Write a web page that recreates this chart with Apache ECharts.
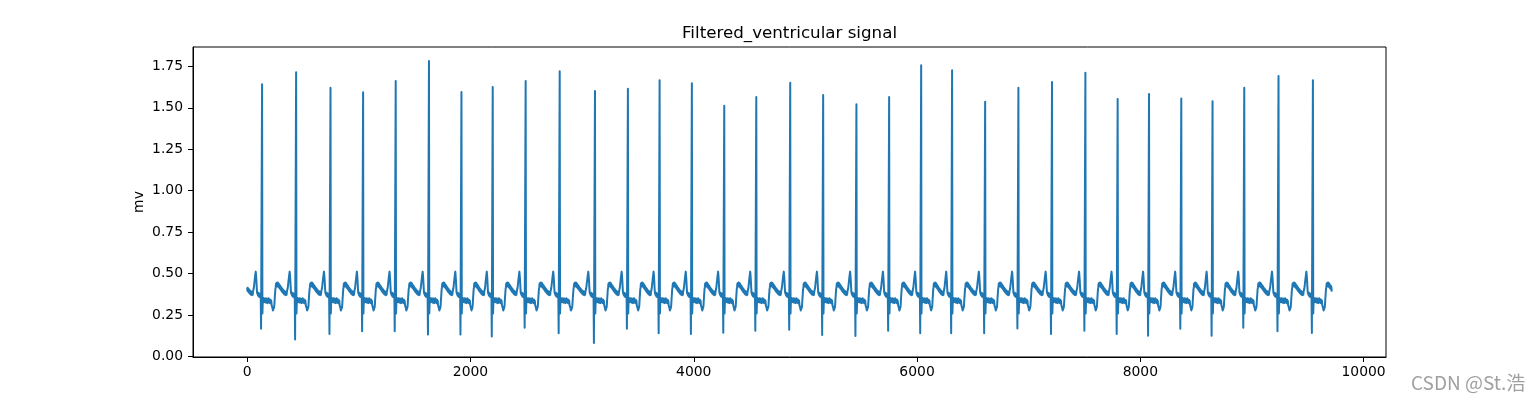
<!DOCTYPE html>
<html>
<head>
<meta charset="utf-8">
<script src="https://cdn.jsdelivr.net/npm/echarts@6/dist/echarts.min.js"></script>
<style>
html,body{margin:0;padding:0;background:#fff;}
#chart{width:1540px;height:400px;}
</style>
</head>
<body>
<div id="chart"></div>
<script>
// ---- data ----
const TITLE = 'Filtered_ventricular signal';
const Y_NAME = 'mv';
const WATERMARK = 'CSDN @St.浩';

// sample index of every R peak
const R_PEAK_SAMPLE = [133,438,746,1038,1330,1628,1919,2199,2494,2799,3115,3410,3694,3983,4273,4560,4864,5159,5457,5750,6037,6314,6610,6908,7209,7508,7797,8078,8367,8647,8931,9238,9546];
// amplitude of every R peak (mv)
const R_AMPLITUDE = [1.642,1.715,1.621,1.594,1.662,1.782,1.595,1.625,1.662,1.721,1.601,1.615,1.666,1.648,1.512,1.566,1.651,1.577,1.522,1.566,1.757,1.727,1.536,1.621,1.656,1.712,1.554,1.583,1.557,1.540,1.621,1.692,1.666];
// depth of the sharp trough just before every R peak (mv)
const Q_TROUGH = [0.167,0.102,0.136,0.152,0.152,0.132,0.132,0.120,0.173,0.140,0.082,0.167,0.140,0.136,0.144,0.156,0.161,0.130,0.124,0.156,0.140,0.140,0.140,0.169,0.136,0.156,0.136,0.125,0.167,0.125,0.173,0.152,0.142];

// phase 0 = R, 300 = next R, null = Q trough
const BEAT_PHASE = [3,6,9,12,15,18,21,24,27,30,33,36,39,42,45,48,51,54,57,60,63,66,69,72,75,78,81,84,87,90,93,96,99,102,105,108,111,114,117,120,123,126,129,132,135,138,141,144,147,150,153,156,159,162,165,168,171,174,177,180,183,186,189,192,195,198,201,204,207,210,213,216,219,222,225,228,231,234,237,240,243,246,249,252,255,258,261,264,267,270,273,276,279,282,285,288,291];
const BEAT_LEVEL = [0.26,0.33,0.355,0.335,0.35,0.328,0.348,0.33,0.352,0.327,0.345,0.325,0.35,0.33,0.347,0.322,0.345,0.33,0.352,0.328,0.346,0.325,0.344,0.322,0.342,0.32,0.336,0.31,0.318,0.296,0.298,0.278,0.275,0.272,0.294,0.31,0.345,0.375,0.405,0.418,0.44,0.422,0.445,0.425,0.447,0.424,0.445,0.42,0.44,0.415,0.433,0.41,0.428,0.405,0.422,0.398,0.415,0.392,0.41,0.388,0.405,0.383,0.4,0.378,0.396,0.375,0.393,0.372,0.39,0.37,0.388,0.372,0.392,0.395,0.41,0.425,0.445,0.462,0.48,0.497,0.512,0.49,0.46,0.42,0.385,0.375,0.39,0.368,0.385,0.362,0.382,0.36,0.378,0.358,0.375,0.36,null];
const NOMINAL_RR = 300;

const FIRST_SAMPLE = 0, FIRST_VALUE = 0.415;
const LAST_SAMPLE = 9715, LAST_VALUE = 0.392;

const X_TICKS = [0,2000,4000,6000,8000,10000];
const Y_TICKS = [0,0.25,0.5,0.75,1.0,1.25,1.5,1.75];

// ---- build the series ----
const pts = [[FIRST_SAMPLE, FIRST_VALUE]];
for (let k = 0; k < BEAT_PHASE.length; k++) {
  const x = R_PEAK_SAMPLE[0] - (NOMINAL_RR - BEAT_PHASE[k]);
  if (x <= FIRST_SAMPLE) continue;
  const v = BEAT_LEVEL[k] === null ? Q_TROUGH[0] : BEAT_LEVEL[k];
  pts.push([x, v]);
}
for (let i = 0; i < R_PEAK_SAMPLE.length; i++) {
  pts.push([R_PEAK_SAMPLE[i], R_AMPLITUDE[i]]);
  const last = i === R_PEAK_SAMPLE.length - 1;
  const rr = last ? NOMINAL_RR : (R_PEAK_SAMPLE[i+1] - R_PEAK_SAMPLE[i]);
  for (let k = 0; k < BEAT_PHASE.length; k++) {
    const x = R_PEAK_SAMPLE[i] + BEAT_PHASE[k] * rr / NOMINAL_RR;
    if (last && x >= LAST_SAMPLE) break;
    const v = BEAT_LEVEL[k] === null ? Q_TROUGH[i+1] : BEAT_LEVEL[k];
    pts.push([x, v]);
  }
}
pts.push([LAST_SAMPLE, LAST_VALUE]);

// matplotlib-like 5% autoscale margins
let ymin = Infinity, ymax = -Infinity;
pts.forEach(p => { if (p[1] < ymin) ymin = p[1]; if (p[1] > ymax) ymax = p[1]; });
const xr = LAST_SAMPLE - FIRST_SAMPLE, yr = ymax - ymin;
const XMIN = FIRST_SAMPLE - 0.05 * xr, XMAX = LAST_SAMPLE + 0.05 * xr;
const YMIN = ymin - 0.05 * yr, YMAX = ymax + 0.05 * yr;

const FONT = 'DejaVu Sans';
const chart = echarts.init(document.getElementById('chart'), null, {renderer: 'canvas'});
chart.setOption({
  animation: false,
  backgroundColor: '#ffffff',
  grid: {left: 193, right: 154, top: 47, bottom: 43, show: true, borderColor: '#000', borderWidth: 1, backgroundColor: 'transparent'},
  xAxis: {
    type: 'value', min: XMIN, max: XMAX,
    axisLine: {show: true, onZero: false, lineStyle: {color: '#000', width: 1}},
    axisTick: {show: true, inside: false, length: 5, lineStyle: {color: '#000', width: 1}, customValues: X_TICKS},
    axisLabel: {show: true, margin: 8, color: '#000', fontFamily: FONT, fontSize: 13.9, customValues: X_TICKS, formatter: v => String(Math.round(v))},
    splitLine: {show: false}
  },
  yAxis: {
    type: 'value', min: YMIN, max: YMAX,
    axisLine: {show: true, onZero: false, lineStyle: {color: '#000', width: 1}},
    axisTick: {show: true, inside: false, length: 5, lineStyle: {color: '#000', width: 1}, customValues: Y_TICKS},
    axisLabel: {show: true, margin: 10, color: '#000', fontFamily: FONT, fontSize: 13.9, customValues: Y_TICKS, formatter: v => v.toFixed(2)},
    splitLine: {show: false}
  },
  series: [{
    type: 'line', data: pts, showSymbol: false, symbol: 'none', sampling: false,
    lineStyle: {color: '#1f77b4', width: 2, join: 'round'},
    clip: true, z: 2
  }],
  graphic: [
    {type: 'text', x: 789.5, y: 34, style: {text: TITLE, font: '16.7px "DejaVu Sans"', fill: '#000', align: 'center', verticalAlign: 'middle'}},
    {type: 'text', x: 139, y: 202, rotation: Math.PI / 2, style: {text: Y_NAME, font: '13.9px "DejaVu Sans"', fill: '#000', align: 'center', verticalAlign: 'middle'}},
    {type: 'text', x: 1411, y: 383, style: {text: WATERMARK, font: '19px "Noto Sans CJK SC"', fill: '#a0a0a0', align: 'left', verticalAlign: 'middle'}}
  ]
});
</script>
</body>
</html>
